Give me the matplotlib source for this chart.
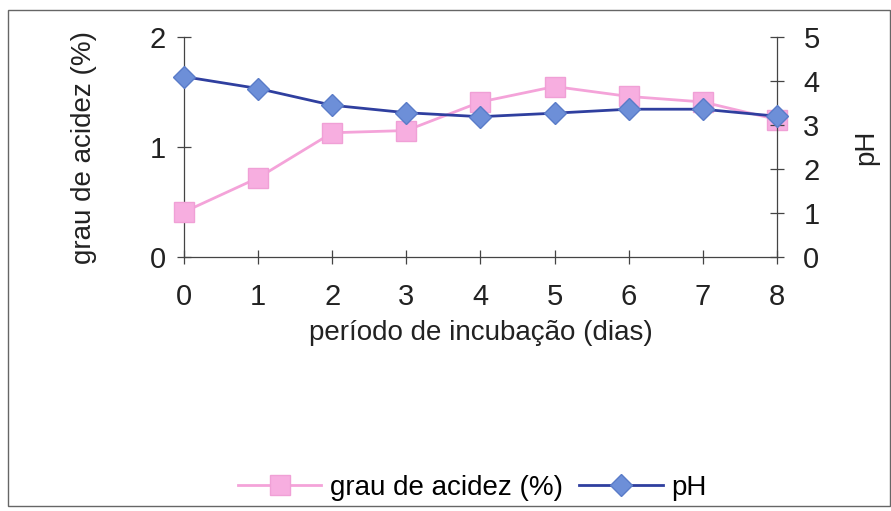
import matplotlib.pyplot as plt
from matplotlib.patches import Rectangle

plt.rcParams['font.family'] = ['Liberation Sans', 'DejaVu Sans']

dias = [0, 1, 2, 3, 4, 5, 6, 7, 8]
acidez = [0.41, 0.72, 1.13, 1.15, 1.41, 1.55, 1.46, 1.41, 1.25]
ph = [4.10, 3.83, 3.45, 3.28, 3.19, 3.27, 3.36, 3.36, 3.20]

fig = plt.figure(figsize=(8.91, 5.11), dpi=100)
ax = fig.add_axes([0.2065, 0.497, 0.6655, 0.4305])
ax2 = ax.twinx()

l1, = ax.plot(dias, acidez, color='#f4a3d9', lw=2, marker='s', ms=14,
              mfc='#f7aee0', mec='#f0a0d6', label='grau de acidez (%)',
              zorder=3, clip_on=False)
l2, = ax2.plot(dias, ph, color='#2f3f9f', lw=2, marker='D', ms=11,
               mfc='#6d8fd8', mec='#5a7cc8', label='pH', zorder=4, clip_on=False)

ax.set_xlim(0, 8)
ax.set_ylim(0, 2)
ax2.set_ylim(0, 5)
ax.set_xticks(dias)
ax.set_yticks([0, 1, 2])
ax2.set_yticks([0, 1, 2, 3, 4, 5])

for a in (ax, ax2):
    a.spines['top'].set_visible(False)
    for s in a.spines.values():
        s.set_color('#444444')
        s.set_linewidth(0.9)
    a.tick_params(direction='inout', length=10, width=0.9, colors='#444444',
                  labelcolor='#222222', labelsize=21)
ax.tick_params(axis='x', pad=14)
ax.tick_params(axis='y', pad=8)
ax2.tick_params(axis='y', pad=14)
ax.spines['right'].set_visible(False)
ax2.spines['left'].set_visible(False)
ax2.spines['bottom'].set_visible(False)
ax.set_zorder(ax2.get_zorder() - 1)
ax.patch.set_visible(False)

ax.set_xlabel('período de incubação (dias)', fontsize=20, color='#222222', labelpad=6)
ax.set_ylabel('grau de acidez (%)', fontsize=20, color='#222222', labelpad=38)
ax2.set_ylabel('pH', fontsize=20, color='#222222', labelpad=24)

fig.legend(handles=[l1, l2], loc='center', bbox_to_anchor=(0.53, 0.045), ncol=2,
           frameon=False, fontsize=20, handlelength=3.0, columnspacing=0.6,
           handletextpad=0.3)

fig.patches.append(Rectangle((0.009, 0.01), 0.99, 0.97, transform=fig.transFigure,
                             fill=False, ec='#666666', lw=1))

fig.savefig('out.png', dpi=100)
